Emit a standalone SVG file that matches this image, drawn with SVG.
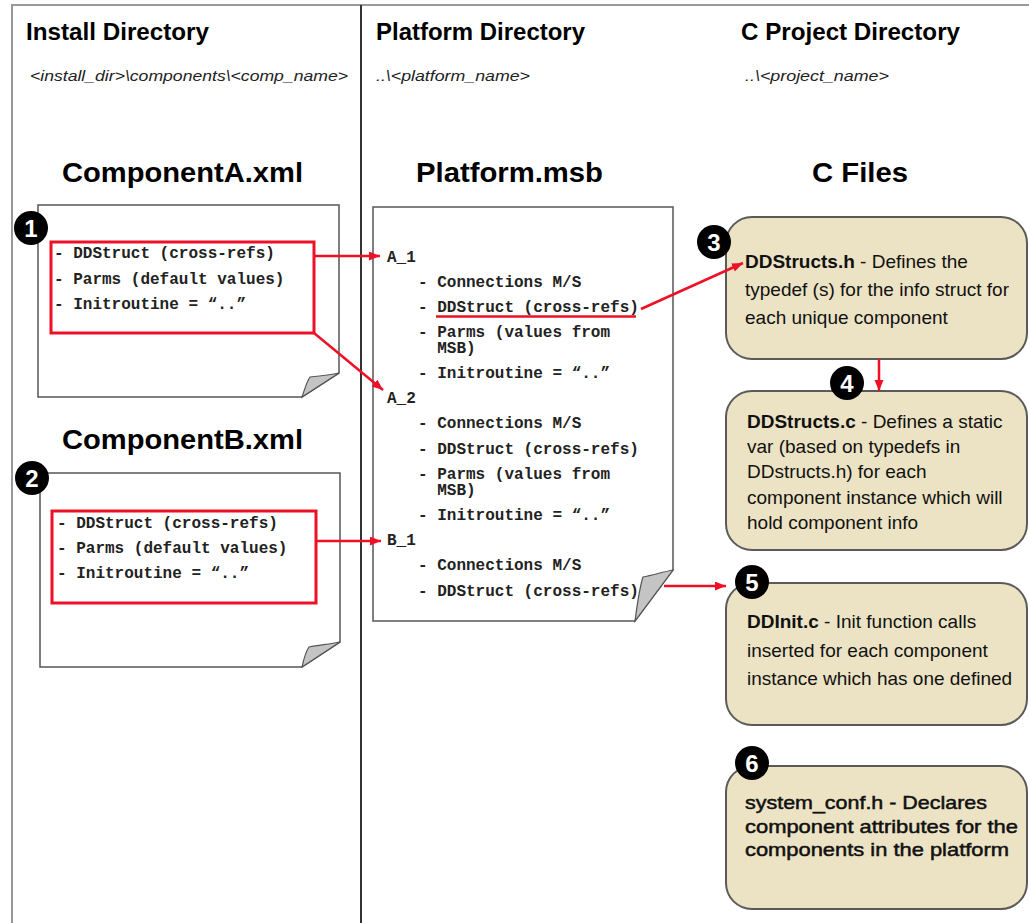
<svg xmlns="http://www.w3.org/2000/svg" width="1029" height="923" viewBox="0 0 1029 923">
<style>
.hdr{font-family:"Liberation Sans",Arial,sans-serif;font-weight:bold;font-size:23px;fill:#000}
.sub{font-family:"Liberation Sans",Arial,sans-serif;font-style:italic;font-size:14px;fill:#222}
.ttl{font-family:"Liberation Sans",Arial,sans-serif;font-weight:bold;font-size:28px;fill:#000}
.code{font-family:"Liberation Mono","Courier New",monospace;font-weight:bold;font-size:16px;fill:#222}
.doc{fill:#fff;stroke:#555;stroke-width:1.5}
.fold{fill:#c4c4c4;stroke:#555;stroke-width:1.2}
.redbox{fill:none;stroke:#ee1126;stroke-width:3}
.conn{stroke:#ee1126;stroke-width:2.5;fill:none}
.box{fill:#ebe3c4;stroke:#5a5a5a;stroke-width:2}
.btxt{font-family:"Liberation Sans",Arial,sans-serif;font-size:19px;fill:#111}
.b{font-weight:bold}
.badge{fill:#000}
.num{font-family:"Liberation Sans",Arial,sans-serif;font-weight:bold;font-size:24px;fill:#fff;text-anchor:middle}
.frame{stroke:#999;stroke-width:2;fill:none}
.div{stroke:#333;stroke-width:2;fill:none}
</style>
<defs>
<marker id="ah" markerUnits="userSpaceOnUse" markerWidth="12" markerHeight="10" refX="11" refY="4.5" orient="auto">
<path d="M0,0 L11,4.5 L0,9 Z" fill="#ee1126"/>
</marker>
</defs>
<rect width="1029" height="923" fill="#fff"/>
<g id="frame">
<path class="frame" d="M12,923 V5 H1029"/>
<path class="div" d="M361,5 V923"/>
</g>
<g id="headers">
<text class="hdr" x="26" y="40" textLength="183" lengthAdjust="spacingAndGlyphs">Install Directory</text>
<text class="hdr" x="376" y="40" textLength="209" lengthAdjust="spacingAndGlyphs">Platform Directory</text>
<text class="hdr" x="741" y="40" textLength="219" lengthAdjust="spacingAndGlyphs">C Project Directory</text>
<text class="sub" x="30" y="81" textLength="318" lengthAdjust="spacingAndGlyphs">&lt;install_dir&gt;\components\&lt;comp_name&gt;</text>
<text class="sub" x="376" y="81" textLength="154" lengthAdjust="spacingAndGlyphs">..\&lt;platform_name&gt;</text>
<text class="sub" x="745" y="81" textLength="144" lengthAdjust="spacingAndGlyphs">..\&lt;project_name&gt;</text>
<text class="ttl" x="62" y="182" textLength="241" lengthAdjust="spacingAndGlyphs">ComponentA.xml</text>
<text class="ttl" x="416" y="182" textLength="187" lengthAdjust="spacingAndGlyphs">Platform.msb</text>
<text class="ttl" x="812" y="182" textLength="96" lengthAdjust="spacingAndGlyphs">C Files</text>
<text class="ttl" x="62" y="449" textLength="241" lengthAdjust="spacingAndGlyphs">ComponentB.xml</text>
</g>
<g id="componentA">
<path class="doc" d="M38,205 H339 V373 L302,397 H38 Z"/>
<path class="fold" d="M302,397 C305,388 307,381 310,377 C320,376 330,375 339,373 Z"/>
<rect class="redbox" x="51" y="242" width="263" height="91"/>
<text class="code" x="54" y="258">- DDStruct (cross-refs)</text>
<text class="code" x="54" y="284">- Parms (default values)</text>
<text class="code" x="54" y="309">- Initroutine = “..”</text>
<circle class="badge" cx="31" cy="228" r="17"/>
<text class="num" x="31" y="237">1</text>
</g>
<g id="componentB">
<path class="doc" d="M40,473 H340 V642 L302,667 H40 Z"/>
<path class="fold" d="M302,667 C304,658 306,651 309,647 C320,645 330,644 340,642 Z"/>
<rect class="redbox" x="52" y="511" width="264" height="92"/>
<text class="code" x="57" y="528">- DDStruct (cross-refs)</text>
<text class="code" x="57" y="553">- Parms (default values)</text>
<text class="code" x="57" y="578">- Initroutine = “..”</text>
<circle class="badge" cx="32" cy="478" r="17"/>
<text class="num" x="32" y="487">2</text>
</g>
<g id="platform">
<path class="doc" d="M373,207 H673 V570 L635,621 H373 Z"/>
<path class="fold" d="M635,621 C637,606 640,586 643,577 C653,575 663,572 673,570 Z"/>
<text class="code" x="387" y="262">A_1</text>
<text class="code" x="418" y="287">- Connections M/S</text>
<text class="code" x="418" y="312">- DDStruct (cross-refs)</text>
<text class="code" x="418" y="337">- Parms (values from</text>
<text class="code" x="437.2" y="353">MSB)</text>
<text class="code" x="418" y="378">- Initroutine = “..”</text>
<text class="code" x="387" y="403">A_2</text>
<text class="code" x="418" y="428">- Connections M/S</text>
<text class="code" x="418" y="454">- DDStruct (cross-refs)</text>
<text class="code" x="418" y="479">- Parms (values from</text>
<text class="code" x="437.2" y="495">MSB)</text>
<text class="code" x="418" y="520">- Initroutine = “..”</text>
<text class="code" x="387" y="545">B_1</text>
<text class="code" x="418" y="570">- Connections M/S</text>
<text class="code" x="418" y="596">- DDStruct (cross-refs)</text>
<line x1="436" y1="316.5" x2="636" y2="316.5" stroke="#ee1126" stroke-width="2.5"/>
</g>
<g id="ddstructs_h">
<rect class="box" x="726" y="217" width="301" height="142" rx="26"/>
<text class="btxt" x="745" y="268"><tspan class="b">DDStructs.h</tspan> - Defines the</text>
<text class="btxt" x="745" y="296">typedef (s) for the info struct for</text>
<text class="btxt" x="745" y="324">each unique component</text>
<circle class="badge" cx="714" cy="242" r="17"/>
<text class="num" x="714" y="251">3</text>
</g>
<g id="ddstructs_c">
<rect class="box" x="726" y="391" width="301" height="159" rx="26"/>
<text class="btxt" x="747" y="428"><tspan class="b">DDStructs.c</tspan> - Defines a static</text>
<text class="btxt" x="747" y="453">var (based on typedefs in</text>
<text class="btxt" x="747" y="478">DDstructs.h) for each</text>
<text class="btxt" x="747" y="504">component instance which will</text>
<text class="btxt" x="747" y="529">hold component info</text>
<circle class="badge" cx="847" cy="383" r="17"/>
<text class="num" x="847" y="392">4</text>
</g>
<g id="ddinit_c">
<rect class="box" x="726" y="583" width="301" height="142" rx="26"/>
<text class="btxt" x="747" y="628"><tspan class="b">DDInit.c</tspan> - Init function calls</text>
<text class="btxt" x="747" y="657">inserted for each component</text>
<text class="btxt" x="747" y="685">instance which has one defined</text>
<circle class="badge" cx="752" cy="582" r="17"/>
<text class="num" x="752" y="591">5</text>
</g>
<g id="system_conf_h">
<rect class="box" x="726" y="766" width="301" height="143" rx="26"/>
<text class="btxt" x="745" y="809" stroke="#111" stroke-width="0.5" textLength="242" lengthAdjust="spacingAndGlyphs">system_conf.h - Declares</text>
<text class="btxt" x="745" y="833" stroke="#111" stroke-width="0.5" textLength="273" lengthAdjust="spacingAndGlyphs">component attributes for the</text>
<text class="btxt" x="745" y="856" stroke="#111" stroke-width="0.5" textLength="264" lengthAdjust="spacingAndGlyphs">components in the platform</text>
<circle class="badge" cx="752" cy="763" r="17"/>
<text class="num" x="752" y="772">6</text>
</g>
<g id="connectors">
<line class="conn" x1="314" y1="256" x2="380" y2="256" marker-end="url(#ah)"/>
<line class="conn" x1="314" y1="333" x2="383" y2="390" marker-end="url(#ah)"/>
<line class="conn" x1="316" y1="541" x2="381" y2="541" marker-end="url(#ah)"/>
<line class="conn" x1="641" y1="309" x2="743" y2="263" marker-end="url(#ah)"/>
<line class="conn" x1="879" y1="359" x2="879" y2="391" marker-end="url(#ah)"/>
<line class="conn" x1="664" y1="586" x2="726" y2="586" marker-end="url(#ah)"/>
</g>
</svg>
